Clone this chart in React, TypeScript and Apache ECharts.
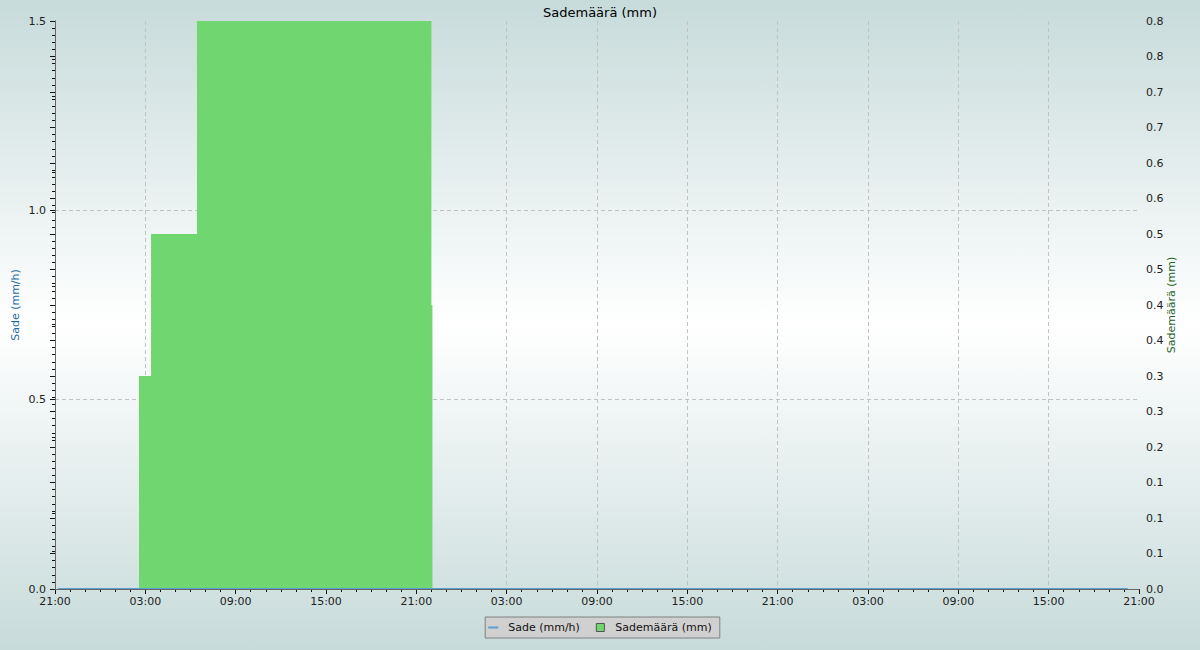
import React, { useEffect, useRef } from 'react';
import * as echarts from 'echarts';

// x positions are hours since 21:00 on the first day
const xTickLabels = ['21:00', '03:00', '09:00', '15:00', '21:00', '03:00', '09:00', '15:00', '21:00', '03:00', '09:00', '15:00', '21:00'];
const leftTickLabels = ['0.0', '0.5', '1.0', '1.5'];
const rightTickLabels = ['0.0', '0.1', '0.1', '0.1', '0.2', '0.3', '0.3', '0.4', '0.4', '0.5', '0.5', '0.6', '0.6', '0.7', '0.7', '0.8', '0.8'];

const sadeHours = [0.2, 71.25];
const sadeValues = [0, 0];

const maaraHours = [5.58, 6.38, 9.43, 25.0, 25.07];
const maaraValues = [0.3, 0.5, 0.8, 0.4, 0];

const FONT = 'DejaVu Sans';

export default function App() {
  const ref = useRef<HTMLDivElement>(null);
  useEffect(() => {
    if (!ref.current) return;
    const chart = echarts.init(ref.current, undefined, { renderer: 'svg' });
    const axisLineStyle = { color: '#666', width: 1 };
    const tickStyle = { color: '#111', width: 1 };
    const labelStyle = { color: '#222', fontSize: 11, fontFamily: FONT };
    const splitStyle = { color: '#c2c2c2', type: [4, 3], width: 1 };
    chart.setOption({
      animation: false,
      textStyle: { fontFamily: FONT },
      title: {
        text: 'Sademäärä (mm)',
        left: 'center',
        top: 1,
        textStyle: { fontSize: 13, fontWeight: 'normal', color: '#000', fontFamily: FONT },
      },
      grid: { left: 55, right: 61, top: 21, bottom: 61, containLabel: false, outerBoundsMode: 'none' },
      legend: {
        top: 617,
        left: 'center',
        backgroundColor: '#d0d0d0',
        borderColor: '#808080',
        borderWidth: 1,
        borderRadius: 0,
        padding: [5, 8, 5, 3],
        itemWidth: 10,
        itemHeight: 8,
        itemGap: 16,
        symbolKeepAspect: true,
        textStyle: { fontSize: 11, color: '#111', fontFamily: FONT, padding: [0, 0, 0, 5] },
        data: [
          {
            name: 'Sade (mm/h)',
            icon: 'path://M0,0H10V2H0Z',
            itemStyle: { color: '#5b9fd0', borderWidth: 0 },
          },
          {
            name: 'Sademäärä (mm)',
            icon: 'path://M0,0H8V8H0Z',
            itemStyle: { color: '#70d670', borderColor: '#555', borderWidth: 1 },
          },
        ],
      },
      xAxis: [
        {
          type: 'value',
          min: 0,
          max: 72,
          interval: 6,
          axisLine: { show: true, lineStyle: axisLineStyle },
          axisTick: { show: true, length: 5, lineStyle: tickStyle },
          minorTick: { show: true, splitNumber: 6, length: 3, lineStyle: tickStyle },
          axisLabel: {
            ...labelStyle,
            margin: 7,
            showMinLabel: true,
            showMaxLabel: true,
            formatter: (v: number) => xTickLabels[Math.round(v / 6)] ?? '',
          },
          splitLine: { show: true, showMinLine: false, showMaxLine: false, lineStyle: splitStyle },
        },
        {
          type: 'value',
          position: 'top',
          min: 0,
          max: 72,
          z: 10,
          axisLine: { show: true, lineStyle: axisLineStyle },
          axisTick: { show: false },
          axisLabel: { show: false },
          splitLine: { show: false },
        },
      ],
      yAxis: [
        {
          type: 'value',
          position: 'left',
          min: 0,
          max: 1.5,
          interval: 0.5,
          name: 'Sade (mm/h)',
          nameLocation: 'middle',
          nameGap: 34,
          nameRotate: 90,
          nameMoveOverlap: false,
          nameTextStyle: { color: '#1f6aa5', fontSize: 11, fontFamily: FONT },
          axisLine: { show: true, lineStyle: axisLineStyle },
          axisTick: { show: true, length: 5, lineStyle: tickStyle },
          minorTick: { show: true, splitNumber: 5, length: 3, lineStyle: tickStyle },
          axisLabel: {
            ...labelStyle,
            margin: 9,
            formatter: (v: number) => leftTickLabels[Math.round(v / 0.5)] ?? '',
          },
          splitLine: { show: true, showMinLine: false, showMaxLine: false, lineStyle: splitStyle },
        },
        {
          type: 'value',
          position: 'right',
          min: 0,
          max: 0.8,
          interval: 0.05,
          name: 'Sademäärä (mm)',
          nameLocation: 'middle',
          nameGap: 27,
          nameRotate: 90,
          nameMoveOverlap: false,
          nameTextStyle: { color: '#1e641e', fontSize: 11, fontFamily: FONT },
          axisLine: { show: true, lineStyle: axisLineStyle },
          axisTick: { show: true, inside: true, length: 5, lineStyle: tickStyle },
          minorTick: { show: true, splitNumber: 5, length: 3, lineStyle: tickStyle },
          axisLabel: {
            ...labelStyle,
            margin: 7,
            formatter: (v: number) => rightTickLabels[Math.round(v / 0.05)] ?? '',
          },
          splitLine: { show: false },
        },
      ],
      series: [
        {
          name: 'Sademäärä (mm)',
          type: 'line',
          xAxisIndex: 0,
          yAxisIndex: 1,
          step: 'end',
          symbol: 'none',
          data: maaraHours.map((h, i) => [h, maaraValues[i]]),
          lineStyle: { width: 0, color: '#70d670' },
          itemStyle: { color: '#70d670' },
          areaStyle: { color: '#70d670', opacity: 1 },
          z: 2,
        },
        {
          name: 'Sade (mm/h)',
          type: 'line',
          xAxisIndex: 0,
          yAxisIndex: 0,
          symbol: 'none',
          data: sadeHours.map((h, i) => [h, sadeValues[i]]),
          lineStyle: { color: '#5b9fd0', width: 2 },
          itemStyle: { color: '#5b9fd0' },
          z: 3,
        },
      ],
    });
    return () => chart.dispose();
  }, []);
  return (
    <div
      ref={ref}
      style={{
        position: 'fixed',
        left: 0,
        top: 0,
        width: 1200,
        height: 650,
        background: 'linear-gradient(to bottom, #c7dbda 0%, #ffffff 50%, #c7dbda 100%)',
      }}
    />
  );
}
